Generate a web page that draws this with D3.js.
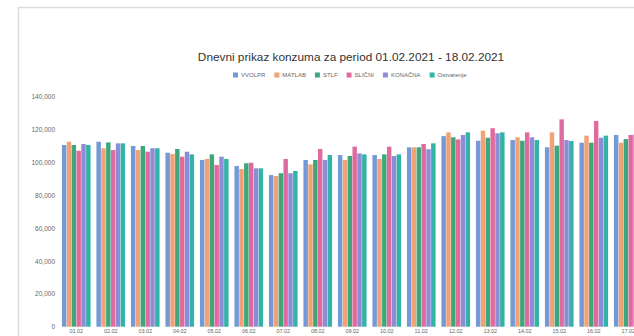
<!DOCTYPE html>
<html>
<head>
<meta charset="utf-8">
<script src="https://cdn.jsdelivr.net/npm/d3@7"></script>
<style>
  html, body { margin: 0; padding: 0; background: #fff; overflow: hidden; }
  svg { display: block; font-family: "Liberation Sans", Arial, sans-serif; }
</style>
</head>
<body>
<svg id="chart" width="634" height="336"></svg>
<script>
// Daily consumption per forecast method, 01.02 - 17.02
const days = ["01.02","02.02","03.02","04.02","05.02","06.02","07.02","08.02","09.02",
              "10.02","11.02","12.02","13.02","14.02","15.02","16.02","17.02"];
const seriesNames = ["VVOLPR","MATLAB","STLF","SLIČNI","KONAČNA","Ostvarenje"];
const seriesColors = ["#7399d6","#f0a276","#3ea67b","#df6a9d","#8c8dd6","#33b2a8"];

const vvolpr     = [110600,112600,110000,105900,101500, 97800, 92300,101500,104500,104500,109200,116000,113200,113600,109200,112000,116700];
const matlab     = [112600,108600,107500,105100,102100, 96000, 91700, 98800,101500,102100,109200,118300,119300,115300,118300,116300,112000];
const stlf       = [110600,112200,110000,108200,104900, 99500, 93400,101500,103900,104900,109200,115300,115000,113200,110200,112000,114200];
const slicni     = [107100,107500,106500,103500, 98400, 99800,102100,108200,109600,109600,111200,114000,120800,118300,126200,125200,116700];
const konacna    = [111200,111600,108600,106500,103500, 96400, 93400,101500,105500,103900,108000,116700,117700,115300,113600,115000,117100];
const ostvarenje = [110600,111600,108600,104900,102100, 96400, 94800,104500,104900,104900,111600,118300,118300,113600,113000,116300,116000];

const yTicks = [0,20000,40000,60000,80000,100000,120000,140000];

const values = [vvolpr, matlab, stlf, slicni, konacna, ostvarenje];

const svg = d3.select("#chart");

// outer panel frame
svg.append("rect")
  .attr("x", 18.5).attr("y", 7.5)
  .attr("width", 700).attr("height", 400)
  .attr("fill", "#fff")
  .attr("stroke", "#dcdcdc").attr("stroke-width", 1.5);

const x = d3.scaleBand()
  .domain(days)
  .range([59, 59 + days.length * 34.5])
  .paddingInner(0.17)
  .paddingOuter(0.085);

const xInner = d3.scaleBand()
  .domain(seriesNames)
  .range([0, x.bandwidth()])
  .paddingInner(0.08);

const y = d3.scaleLinear()
  .domain([0, 140000])
  .range([326.7, 96.7]);

// y axis labels
const yAxis = d3.axisLeft(y)
  .tickValues(yTicks)
  .tickFormat(d3.format(","))
  .tickSize(0)
  .tickPadding(0);
const gy = svg.append("g").attr("transform", "translate(55,0)").call(yAxis);
gy.select(".domain").remove();
gy.selectAll("text")
  .attr("fill", "#666")
  .style("font-size", "6.5px")
  .style("font-family", "'Liberation Sans', Arial, sans-serif");

// bars
const groups = svg.append("g").selectAll("g")
  .data(days)
  .join("g")
  .attr("transform", d => `translate(${x(d)},0)`);

groups.selectAll("rect")
  .data((d, i) => seriesNames.map((s, k) => ({ s, k, v: values[k][i] })))
  .join("rect")
  .attr("x", d => xInner(d.s))
  .attr("width", xInner.bandwidth())
  .attr("y", d => y(d.v))
  .attr("height", d => y(0) - y(d.v))
  .attr("fill", d => seriesColors[d.k]);

// x axis labels
const xAxis = d3.axisBottom(x).tickSize(0).tickPadding(0);
const gx = svg.append("g").attr("transform", "translate(0,329)").call(xAxis);
gx.select(".domain").remove();
gx.selectAll("text")
  .attr("fill", "#666")
  .style("font-size", "5.5px")
  .style("font-family", "'Liberation Sans', Arial, sans-serif");

// title
svg.append("text")
  .attr("x", 351).attr("y", 61)
  .attr("text-anchor", "middle")
  .attr("fill", "#333")
  .style("font-size", "11.8px")
  .text("Dnevni prikaz konzuma za period 01.02.2021 - 18.02.2021");

// legend
const legend = svg.append("g").attr("transform", "translate(233,75)");
let lx = 0;
seriesNames.forEach((name, k) => {
  const item = legend.append("g").attr("transform", `translate(${lx},0)`);
  item.append("rect")
    .attr("x", 0).attr("y", -2.5)
    .attr("width", 5).attr("height", 5)
    .attr("fill", seriesColors[k]);
  const t = item.append("text")
    .attr("x", 8).attr("y", 2)
    .attr("fill", "#666")
    .style("font-size", "6px")
    .text(name);
  lx += 8 + t.node().getComputedTextLength() + 9;
});
</script>
</body>
</html>
